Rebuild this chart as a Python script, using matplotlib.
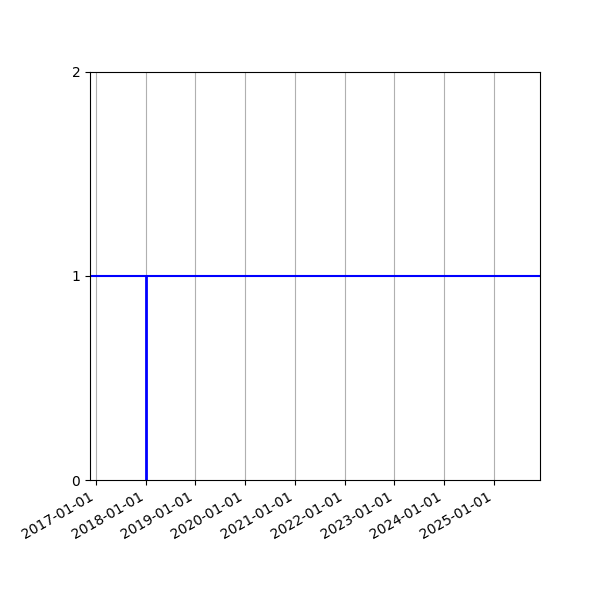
import matplotlib
matplotlib.use("Agg")
import matplotlib.pyplot as plt
import matplotlib.dates as mdates
import numpy as np

# Data
event_dates = np.array(["2018-01-01"], dtype="datetime64[D]")
event_levels = [1]
level = 1
x_start = np.datetime64("2016-11-18")
x_end = np.datetime64("2025-12-04")
tick_dates = np.array(["2017-01-01", "2018-01-01", "2019-01-01", "2020-01-01",
                       "2021-01-01", "2022-01-01", "2023-01-01", "2024-01-01",
                       "2025-01-01"], dtype="datetime64[D]")
y_ticks = [0, 1, 2]

fig = plt.figure(figsize=(6, 6), dpi=100)
ax = fig.add_axes([0.15, 0.2, 0.75, 0.68])

ax.axhline(level, color="blue", lw=1.5)
ax.vlines(event_dates, 0, event_levels, color="blue", lw=2)

ax.set_xlim(x_start, x_end)
ax.set_ylim(0, 2)
ax.set_yticks(y_ticks)
ax.set_xticks(tick_dates)
ax.xaxis.set_major_formatter(mdates.DateFormatter("%Y-%m-%d"))
ax.grid(axis="x", color="#b0b0b0")
for lbl in ax.get_xticklabels():
    lbl.set_rotation(30)
    lbl.set_ha("right")

fig.savefig("out.png", dpi=100)
